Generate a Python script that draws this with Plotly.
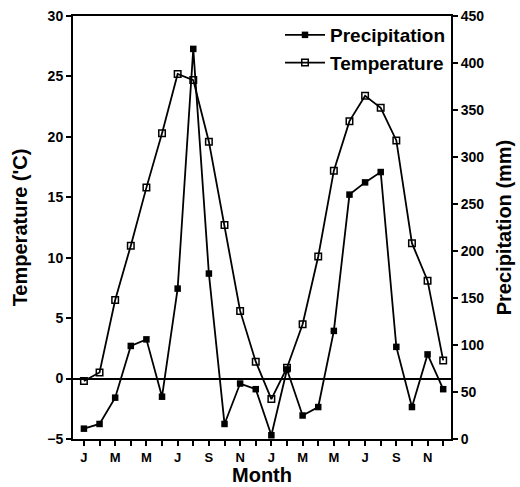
import plotly.graph_objects as go

months = list(range(24))
month_labels = ["J", "", "M", "", "M", "", "J", "", "S", "", "N", "",
                "J", "", "M", "", "M", "", "J", "", "S", "", "N", ""]

temperature = [-0.2, 0.5, 6.5, 11.0, 15.8, 20.3, 25.2, 24.7, 19.6, 12.7, 5.6, 1.4,
               -1.7, 0.9, 4.5, 10.1, 17.2, 21.3, 23.4, 22.4, 19.7, 11.2, 8.1, 1.5]
precipitation = [11, 16, 44, 99, 106, 45, 160, 415, 176, 16, 59, 53,
                 4, 74, 25, 34, 115, 260, 273, 284, 98, 34, 90, 53]

FONT = "Liberation Sans, Arial, sans-serif"

fig = go.Figure()
fig.add_trace(go.Scatter(
    x=months, y=precipitation, name="Precipitation", yaxis="y2",
    mode="lines+markers",
    line=dict(color="black", width=1.8),
    marker=dict(symbol="square", size=6.5, color="black"),
))
fig.add_trace(go.Scatter(
    x=months, y=temperature, name="Temperature", yaxis="y",
    mode="lines+markers",
    line=dict(color="black", width=1.8),
    marker=dict(symbol="square-open", size=6.5, color="black", line=dict(width=1.5)),
))

tickfont = dict(family=FONT, size=14, color="black", weight="bold")
xtickfont = dict(family=FONT, size=13, color="black", weight="bold")
titlefont = dict(family=FONT, size=20, color="black", weight="bold")

fig.update_layout(
    width=520, height=487,
    margin=dict(l=73, r=69, t=16, b=48, autoexpand=False),
    paper_bgcolor="white", plot_bgcolor="white",
    showlegend=True,
    legend=dict(x=1.0, y=1.0, xanchor="right", yanchor="top",
                bgcolor="rgba(0,0,0,0)", font=dict(family=FONT, size=19, color="black", weight="bold"),
                tracegroupgap=0, itemwidth=40),
    xaxis=dict(
        range=[-0.7, 23.5], tickmode="array", tickvals=months, ticktext=month_labels,
        ticks="outside", ticklen=5, tickwidth=2, tickcolor="black",
        showline=True, linecolor="black", linewidth=2, mirror=True,
        showgrid=False, zeroline=False, tickfont=xtickfont, automargin=False,
    ),
    yaxis=dict(
        range=[-5, 30], tickvals=[-5, 0, 5, 10, 15, 20, 25, 30],
        ticks="outside", ticklen=5, tickwidth=2, tickcolor="black",
        showline=True, linecolor="black", linewidth=2,
        showgrid=False, zeroline=True, zerolinecolor="black", zerolinewidth=1.8,
        tickfont=tickfont, automargin=False,
        title=dict(text="Temperature ('C)", font=titlefont, standoff=14),
    ),
    yaxis2=dict(
        range=[0, 450], tickvals=list(range(0, 451, 50)), overlaying="y", side="right",
        ticks="outside", ticklen=5, tickwidth=2, tickcolor="black",
        showline=True, linecolor="black", linewidth=2,
        showgrid=False, zeroline=False, tickfont=tickfont, automargin=False,
        title=dict(text="Precipitation (mm)", font=titlefont, standoff=14),
    ),
    annotations=[dict(text="Month", xref="paper", yref="paper", x=0.5, y=-0.085,
                      xanchor="center", yanchor="middle", showarrow=False, font=titlefont)],
)

fig.write_html("out.html")
